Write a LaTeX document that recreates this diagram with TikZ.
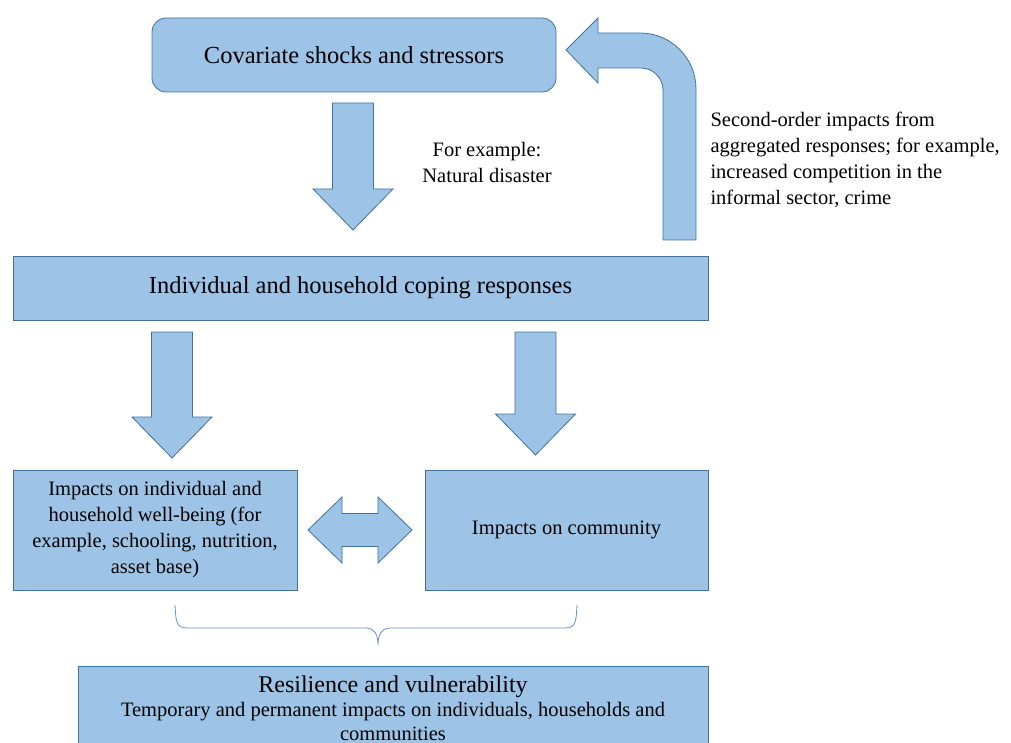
\documentclass[tikz,border=0pt]{standalone}
\usepackage{fontspec}
\setmainfont{Liberation Serif}
\usetikzlibrary{calc}

\definecolor{boxfill}{HTML}{9DC3E6}
\definecolor{boxline}{HTML}{41719C}
\definecolor{braceline}{HTML}{6A8FC8}

\begin{document}
\begin{tikzpicture}[x=1pt,y=-1pt,
                    box/.style={draw=boxline,fill=boxfill,line width=0.8pt,align=center,inner sep=0pt},
                    bigtext/.style={font=\fontsize{24.5}{28}\selectfont},
                    smalltext/.style={font=\fontsize{20.5}{26}\selectfont},
                    blockshape/.style={draw=boxline,fill=boxfill,line width=0.8pt,line join=miter},
                    blockdown/.style={blockshape,
                      to path={let \p1=(\tikztostart), \p2=(\tikztotarget) in
                        (\x1-20.5pt,\y1) -- (\x1+20.5pt,\y1) -- (\x1+20.5pt,\y2+41pt) -- (\x1+40pt,\y2+41pt)
                        -- (\x2,\y2) -- (\x1-40pt,\y2+41pt) -- (\x1-20.5pt,\y2+41pt) -- cycle}},
                    ]

                    \useasboundingbox (0,0) rectangle (1011,743);
                    \clip (0,0) rectangle (1011,743);

                    \node[box,bigtext,rounded corners=14pt,minimum width=404pt,minimum height=74pt] (shocks) at (354,55) {Covariate shocks and stressors};
                    \node[box,bigtext,minimum width=695pt,minimum height=64pt] (coping) at (360.5,288) {Individual and household coping responses};
                    \node[box,smalltext,minimum width=284pt,minimum height=120pt] (indiv) at (155,530) {Impacts on individual and\\household well-being (for\\example, schooling, nutrition,\\asset base)};
                    \node[box,smalltext,minimum width=283pt,minimum height=120pt] (community) at (566.5,530) {Impacts on community};
                    \node[box,minimum width=630pt,minimum height=84pt,font=\fontsize{20.5}{24}\selectfont] (resil) at (393,708)
                      {\fontsize{24}{27}\selectfont Resilience and vulnerability\\
                       \fontsize{20.5}{23}\selectfont Temporary and permanent impacts on individuals, households and\\communities};

                    \node[smalltext,align=center] (example) at (487,162) {For example:\\Natural disaster};
                    \node[smalltext,align=left,anchor=west] (second) at (707,160) {Second-order impacts from\\aggregated responses; for example,\\increased competition in the\\informal sector, crime};

                    % block arrows
                    \coordinate (a1top) at (353,103);
                    \coordinate (a1tip) at (353,230);
                    \coordinate (a2top) at (172,332);
                    \coordinate (a2tip) at (172,458);
                    \coordinate (a3top) at (535.5,332);
                    \coordinate (a3tip) at (535.5,455);
                    \draw[blockdown] (a1top) to (a1tip);
                    \draw[blockdown] (a2top) to (a2tip);
                    \draw[blockdown] (a3top) to (a3tip);

                    \path[blockshape] (308,530) -- (342,497) -- (342,513.5) -- (378,513.5) -- (378,497) -- (412,530)
                      -- (378,563) -- (378,546.5) -- (342,546.5) -- (342,563) -- cycle;

                    \path[blockshape] (696,240) -- (696,89) .. controls (696,58) and (671,33) .. (640,33) -- (598,33) -- (598,18)
                      -- (566,50) -- (598,83) -- (598,68) -- (641,68) .. controls (653,68) and (663,78) .. (663,90) -- (663,240) -- cycle;

                    \draw[braceline,line width=0.8pt] (175,605) .. controls (176,622) and (176,628) .. (188,628) -- (366,628)
                      .. controls (374,628) and (378,634) .. (378,645) .. controls (378,634) and (382,628) .. (390,628)
                      -- (565,628) .. controls (576,628) and (576,622) .. (577,605);
                \end{tikzpicture}
\end{document}
